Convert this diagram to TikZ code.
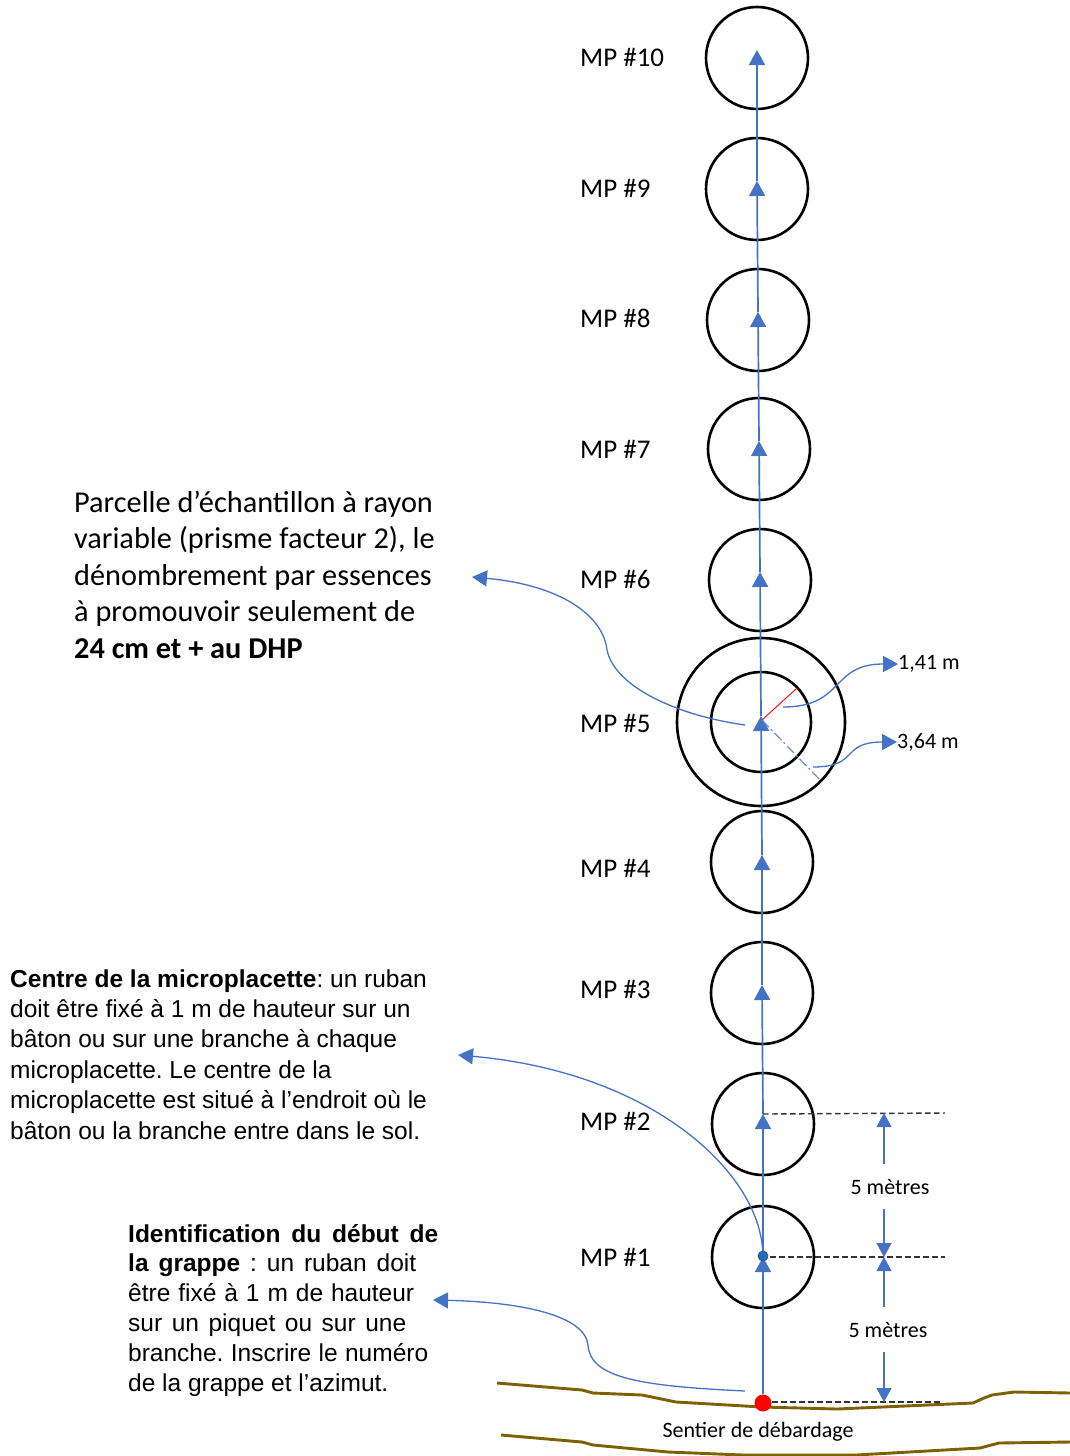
\documentclass[tikz,border=0pt]{standalone}
\usepackage{fontspec}
\newfontfamily\carl{Carlito}
\newfontfamily\arl{Liberation Sans}
\usetikzlibrary{arrows.meta}
\definecolor{obl}{RGB}{68,114,196}
\definecolor{trailc}{RGB}{127,96,0}
\definecolor{dotb}{RGB}{31,110,190}
\frenchspacing
\begin{document}
\begin{tikzpicture}[x=1pt,y=-1pt,
  mpc/.style={circle, draw=black, line width=2.6pt, minimum size=102pt, inner sep=0pt},
  flow/.style={draw=obl, line width=1.7pt, -{Triangle[length=15pt,width=16pt]}},
  callout/.style={draw=obl, line width=1.3pt, -{Triangle[length=15pt,width=16pt]}},
  dimarrow/.style={draw=obl, line width=1.3pt, -{Triangle[length=14pt,width=15pt]}},
  dimline/.style={draw=black!80, line width=1.4pt, dash pattern=on 5.5pt off 3.5pt},
  mplabel/.style={anchor=west, font=\carl\fontsize{27}{32}\selectfont, inner sep=0pt},
  smalllabel/.style={font=\carl\fontsize{22}{26}\selectfont, inner sep=0pt},
  trail/.style={draw=trailc, line width=2.9pt, line join=round}
]
\useasboundingbox (0,0) rectangle (1070,1456);

% trails
\draw[trail] (497,1383) -- (582,1390) -- (593,1393) -- (642,1395) -- (676,1402) -- (762,1407) -- (837,1409) -- (973,1403) -- (984,1398) -- (992,1395) -- (1014,1392) -- (1070,1393);
\draw[trail] (501,1435) -- (582,1442) -- (593,1445) -- (668,1452) -- (743,1455) -- (856,1455) -- (980,1448) -- (999,1443) -- (1070,1442);

% circles
\node[mpc] (mp10) at (757,58) {};
\node[mpc] (mp9) at (757,189) {};
\node[mpc] (mp8) at (758,320) {};
\node[mpc] (mp7) at (759,449) {};
\node[mpc] (mp6) at (760,580) {};
\node[mpc, minimum size=100pt] (mp5) at (761,722) {};
\node[mpc, minimum size=168pt] (mp5o) at (761,722) {};
\node[mpc] (mp4) at (762,862) {};
\node[mpc] (mp3) at (762,993) {};
\node[mpc] (mp2) at (763,1124) {};
\node[mpc] (mp1) at (763,1257) {};

% labels
\node[mplabel] (l10) at (580,57) {MP \#10};
\node[mplabel] (l9) at (580,188) {MP \#9};
\node[mplabel] (l8) at (580,318) {MP \#8};
\node[mplabel] (l7) at (580,449) {MP \#7};
\node[mplabel] (l6) at (580,579) {MP \#6};
\node[mplabel] (l5) at (580,723) {MP \#5};
\node[mplabel] (l4) at (580,868) {MP \#4};
\node[mplabel] (l3) at (580,989) {MP \#3};
\node[mplabel] (l2) at (580,1121) {MP \#2};
\node[mplabel] (l1) at (580,1257) {MP \#1};

% arrow tips at the centres
\coordinate (t1) at (763,1257);
\coordinate (t2) at (763,1114);
\coordinate (t3) at (762,985);
\coordinate (t4) at (762,855);
\coordinate (t5) at (761,716);
\coordinate (t6) at (760,572);
\coordinate (t7) at (759,441);
\coordinate (t8) at (758,312);
\coordinate (t9) at (757,181);
\coordinate (t10) at (757,50);

% start point
\node[circle, fill=red, minimum size=17pt, inner sep=0pt] (start) at (763,1403) {};

% main line
\draw[flow] (start) -- (t1);
\draw[flow] (t1) -- (t2);
\draw[flow] (t2) -- (t3);
\draw[flow] (t3) -- (t4);
\draw[flow] (t4) -- (t5);
\draw[flow] (t5) -- (t6);
\draw[flow] (t6) -- (t7);
\draw[flow] (t7) -- (t8);
\draw[flow] (t8) -- (t9);
\draw[flow] (t9) -- (t10);

% MP1 centre dot
\node[circle, fill=dotb, draw=obl!70!black, line width=0.8pt, minimum size=10pt, inner sep=0pt] (c1dot) at (763,1256) {};

% radii in MP5
\coordinate (r1) at (797,688);
\coordinate (r2) at (821,781);
\coordinate (c5) at (762,720);
\draw[red, line width=0.9pt] (c5) -- (r1);
\draw[obl!80, line width=1.2pt, dash pattern=on 10pt off 3pt on 2pt off 3pt] (c5) -- (r2);

% radius labels
\node[smalllabel, anchor=west] (rad1) at (898,664) {1,41 m};
\node[smalllabel, anchor=west] (rad2) at (897,742) {3,64 m};
\coordinate (a1) at (783,707);
\coordinate (a2) at (813,767);
\draw[callout] (a1) .. controls (845,707) and (830,664) .. (rad1.west);
\draw[callout] (a2) .. controls (860,767) and (840,742) .. (rad2.west);

% text blocks
\node[anchor=base west, inner sep=0pt] (parc) at (74,512) {\parbox[t]{400pt}{\raggedright\carl\fontsize{30.3}{36.6}\selectfont
Parcelle d’échantillon à rayon\\
variable (prisme facteur 2), le\\
dénombrement par essences\\
à promouvoir seulement de\\
\textbf{24 cm et + au DHP}}};

\node[anchor=base west, inner sep=0pt] (centre) at (10,987) {\parbox[t]{440pt}{\raggedright\arl\fontsize{24.5}{30.4}\selectfont
\textbf{Centre de la microplacette}: un ruban\\
doit être fixé à 1 m de hauteur sur un\\
bâton ou sur une branche à chaque\\
microplacette. Le centre de la\\
microplacette est situé à l’endroit où le\\
bâton ou la branche entre dans le sol.}};

\node[anchor=base west, inner sep=0pt] (ident) at (128,1242) {\parbox[t]{310pt}{\arl\fontsize{24.5}{29.9}\selectfont
\makebox[310pt][s]{\textbf{Identification du début de}}\\
\makebox[288pt][s]{\textbf{la grappe} : un ruban doit}\\
\makebox[286pt][s]{être fixé à 1 m de hauteur}\\
\makebox[278pt][s]{sur un piquet ou sur une}\\
\makebox[300pt][s]{branche. Inscrire le numéro}\\
de la grappe et l’azimut.}};

% callout arrows
\coordinate (p5) at (745,725);
\coordinate (tipP) at (472,577);
\draw[callout] (p5) .. controls (680,716) and (615,688) .. (607,650) .. controls (603,615) and (560,585) .. (tipP);
\coordinate (tipC) at (458,1055);
\draw[callout] (c1dot) .. controls (758,1170) and (650,1072) .. (tipC);
\coordinate (g0) at (745,1391);
\coordinate (tipI) at (433,1300);
\draw[callout] (g0) .. controls (640,1386) and (590,1378) .. (588,1345) .. controls (585,1315) and (520,1302) .. (tipI);

% dimensions
\coordinate (e2) at (945,1113);
\coordinate (e1) at (945,1257);
\coordinate (e0) at (942,1402);
\coordinate (s1) at (770,1257);
\coordinate (s0) at (772,1402);
\draw[dimline] (t2) -- (e2);
\draw[dimline] (s1) -- (e1);
\draw[dimline] (s0) -- (e0);
\node[smalllabel] (dim1) at (890,1187) {5 mètres};
\node[smalllabel] (dim0) at (888,1330) {5 mètres};
\coordinate (k2) at (884,1113);
\coordinate (k1) at (884,1257);
\coordinate (k0) at (884,1402);
\coordinate (u1) at (884,1164);
\coordinate (u2) at (884,1209);
\coordinate (u3) at (884,1307);
\coordinate (u4) at (884,1352);
\draw[dimarrow] (u1) -- (k2);
\draw[dimarrow] (u2) -- (k1);
\draw[dimarrow] (u3) -- (k1);
\draw[dimarrow] (u4) -- (k0);

\node[smalllabel] (sentier) at (758,1432) {Sentier de débardage};
\end{tikzpicture}
\end{document}
